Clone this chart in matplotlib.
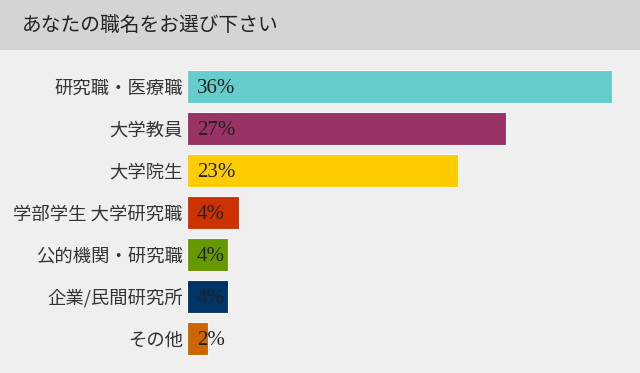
import matplotlib.pyplot as plt
from matplotlib.patches import Rectangle

plt.rcParams['font.family'] = ['Noto Sans CJK JP', 'DejaVu Sans']

# data
categories = ['研究職・医療職', '大学教員', '大学院生', '学部学生 大学研究職',
              '公的機関・研究職', '企業/民間研究所', 'その他']
values = [36, 27, 23, 4.4, 3.5, 3.5, 1.75]
labels = ['36%', '27%', '23%', '4%', '4%', '4%', '2%']
colors = ['#66cccc', '#993366', '#ffcc00', '#cc3300', '#669900', '#003366', '#cc6600']

W, H = 640, 373
fig = plt.figure(figsize=(W / 100, H / 100), dpi=100)
fig.patch.set_facecolor('#efefef')

# header band
fig.patches.append(Rectangle((0, 1 - 50 / H), 1, 50 / H, transform=fig.transFigure,
                             facecolor='#d4d4d4', edgecolor='none', zorder=0))
fig.text(22 / W, 1 - 25 / H, 'あなたの職名をお選び下さい', fontsize=14.2,
         color='#222222', va='center', ha='left')

# bar area (pixels)
x0, x1 = 187, 630
y_top, y_bot = 65.5, 359.5
ax = fig.add_axes([x0 / W, 1 - y_bot / H, (x1 - x0) / W, (y_bot - y_top) / H])
ax.set_facecolor('none')
ax.set_xlim(0, (x1 - x0) / 11.8)
ax.set_ylim(len(categories) - 0.5, -0.5)

ypos = range(len(categories))
ax.barh(ypos, values, height=0.79, color=colors, edgecolor='#f8f8f8', linewidth=0.8)

for y, lab in zip(ypos, labels):
    ax.text(0.85, y + 0.04, lab, fontsize=15, family=['Liberation Serif'],
            color='#222222', va='center', ha='left')

ax.set_yticks(list(ypos))
ax.set_yticklabels(categories, fontsize=13.2, color='#333333')
ax.tick_params(axis='y', length=0, pad=3)
ax.set_xticks([])
for s in ax.spines.values():
    s.set_visible(False)

plt.savefig('out.png', dpi=100, facecolor=fig.get_facecolor())
